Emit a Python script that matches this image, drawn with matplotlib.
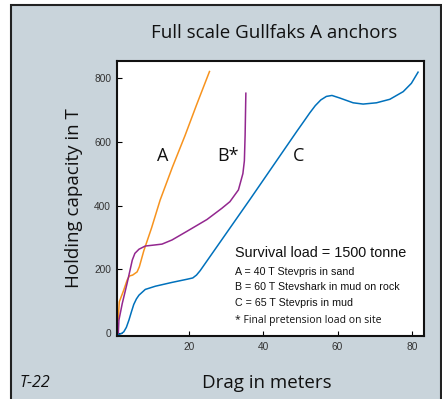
import matplotlib
matplotlib.use("Agg")
import matplotlib.pyplot as plt
from matplotlib.patches import Rectangle

# curve data (drag in m, holding capacity in T)
a_x = [0.9, 1.2, 2.4, 3.3, 3.9, 4.8, 6.0, 6.6, 7.8, 9.9, 12.2, 15.5, 18.9, 22.0, 25.5]
a_y = [41, 98, 135, 166, 179, 182, 192, 208, 258, 330, 417, 520, 619, 715, 820]

b_x = [0.9, 1.1, 2.0, 3.3, 4.7, 5.4, 6.5, 8.2, 10.5, 12.7, 15.4, 19.4, 24.8, 28.8,
       31.0, 33.3, 34.5, 34.9, 35.1, 35.3]
b_y = [-9, 41, 93, 156, 229, 250, 263, 273, 276, 279, 292, 319, 356, 391,
       412, 449, 500, 540, 620, 752]

c_x = [0.9, 1.8, 2.4, 3.1, 3.8, 4.5, 5.1, 5.8, 6.5, 8.2, 10.9, 15.4, 19.5, 21.0, 22.0,
       23.0, 36.4, 49.0, 51.0, 52.5, 54.0, 55.5, 57.0, 58.5, 60.6, 64.2, 66.9, 70.5,
       74.1, 77.7, 79.9, 81.7]
c_y = [-5, -1, 4, 18, 41, 68, 90, 107, 119, 137, 147, 159, 169, 173, 182,
       196, 419, 632, 665, 690, 713, 731, 742, 745, 737, 722, 718, 722,
       733, 757, 783, 818]

x_ticks = [20, 40, 60, 80]
y_ticks = [0, 200, 400, 600, 800]

curve_labels = [("A", 12.9), ("B*", 30.6), ("C", 49.6)]
legend_lines = ["A = 40 T Stevpris in sand",
                "B = 60 T Stevshark in mud on rock",
                "C = 65 T Stevpris in mud"]

bg = "#c9d4db"
W, H = 442, 399

fig = plt.figure(figsize=(4.42, 3.99), dpi=100)
fig.patch.set_facecolor("white")
frame = Rectangle((11 / W, -0.02), 430 / W, (399 - 5) / H + 0.02,
                  transform=fig.transFigure, facecolor=bg, edgecolor="#222222",
                  linewidth=1.5, zorder=-10)
fig.patches.append(frame)

ax = fig.add_axes([116.7 / W, 1 - 336 / H, (424 - 116.7) / W, (336 - 61) / H])
ax.set_facecolor("white")

ax.plot(a_x, a_y, color="#f7931e", lw=1.1)
ax.plot(b_x, b_y, color="#93278f", lw=1.1)
ax.plot(c_x, c_y, color="#0071bc", lw=1.1)

ax.set_xlim(0.5, 83.3)
ax.set_ylim(-9, 853)
ax.set_xticks(x_ticks)
ax.set_yticks(y_ticks)
ax.tick_params(direction="in", length=3.5, width=0.8, labelsize=7.3,
               labelcolor="#333333", pad=4)
for lab in ax.get_xticklabels() + ax.get_yticklabels():
    lab.set_family("Liberation Sans")
for sp in ax.spines.values():
    sp.set_linewidth(1.5)
    sp.set_color("#111111")

for txt, xpos in curve_labels:
    ax.text(xpos, 555, txt, ha="center", va="center", fontsize=13,
            family="Open Sans", color="#111111")

ax.text(0.385, 0.302, "Survival load = 1500 tonne", transform=ax.transAxes,
        ha="left", va="center", fontsize=10.4, family="Liberation Sans", color="#111111")
for i, line in enumerate(legend_lines):
    ax.text(0.385, [0.233, 0.178, 0.12][i], line, transform=ax.transAxes,
            ha="left", va="center", fontsize=7.7, family="Liberation Sans", color="#111111")
ax.text(0.385, 0.058, "* Final pretension load on site", transform=ax.transAxes,
        ha="left", va="center", fontsize=7.5, family="Open Sans", color="#111111")

fig.text(274 / W, 1 - 33 / H, "Full scale Gullfaks A anchors", ha="center", va="center",
         fontsize=13.5, family="Open Sans", color="#111111")
fig.text(74 / W, 1 - 198 / H, "Holding capacity in T", ha="center", va="center",
         rotation=90, fontsize=13.5, family="Open Sans", color="#111111")
fig.text(267 / W, 1 - 383 / H, "Drag in meters", ha="center", va="center",
         fontsize=13.5, family="Open Sans", color="#111111")
fig.text(20 / W, 1 - 383 / H, "T-22", ha="left", va="center", style="italic",
         fontsize=11.5, family="Open Sans", color="#111111")

fig.savefig("out.png", dpi=100)
